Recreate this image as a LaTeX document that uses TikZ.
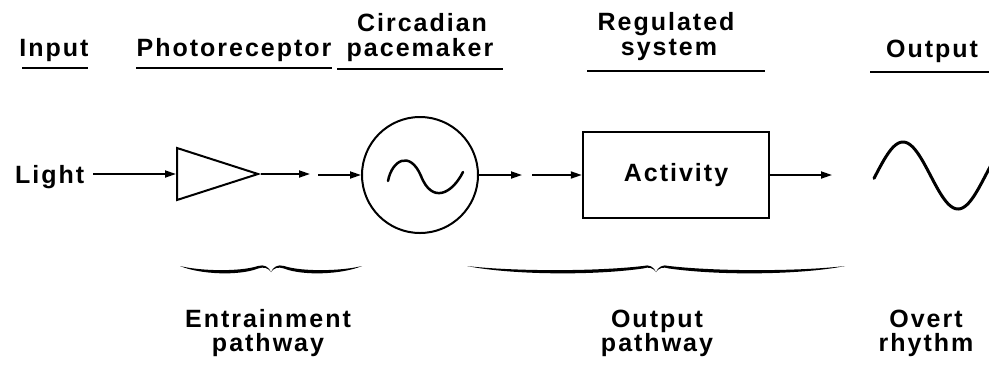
\documentclass[tikz,border=0pt]{standalone}
\usepackage{fontspec}
\setmainfont{Liberation Sans}[LetterSpace=8]
\usetikzlibrary{arrows.meta,shapes.geometric,calc}
\tikzset{
  lbl/.style={inner sep=0pt, anchor=base},
  uline/.style={line width=2pt},
  arr/.style={line width=1.8pt, -{Triangle[length=11pt,width=7pt]}},
  pics/brc/.style={code={
    \foreach \s in {1,-1}{
      \begin{scope}[xscale=\s]
        \fill (-#1,-5) .. controls ({-0.78*#1},0) and ({-0.35*#1},1) .. (-13,-5)
          .. controls (-7,-7) and (-2,-4) .. (0,1)
          .. controls (-3,-3) and (-7,-4.5) .. (-13,-2.5)
          .. controls ({-0.35*#1},5) and ({-0.78*#1},3.5) .. (-#1,-5) -- cycle;
      \end{scope}}
  }}
}
\begin{document}
\begin{tikzpicture}[x=1pt,y=-1pt,font=\fontsize{25}{25}\selectfont\bfseries]
\useasboundingbox (0,0) rectangle (989,368);
% headers
\node[lbl] (inp) at (54,56) {Input};
\node[lbl] (photo) at (234,56) {Photoreceptor};
\node[lbl] (circ) at (422,31) {Circadian};
\node[lbl] (pace) at (420,56) {pacemaker};
\node[lbl] (reg) at (666,30) {Regulated};
\node[lbl] (sys) at (669,55) {system};
\node[lbl] (outh) at (932,57) {Output};
\draw[uline] (22,68) -- (88,68);
\draw[uline] (136,68) -- (332,68);
\draw[uline] (337,69) -- (503,69);
\draw[uline] (587,71) -- (765,71);
\draw[uline] (870,72) -- (989,72);
% main row
\node[lbl, anchor=base west] (light) at (15,183) {Light};
\node[draw, line width=2pt, isosceles triangle, isosceles triangle stretches,
      minimum height=81pt, minimum width=52pt, inner sep=0pt, anchor=west] (tri) at (176,174) {};
\node[draw, circle, line width=2pt, minimum size=116pt, inner sep=0pt] (pm) at (420,175) {};
\node[draw, line width=2.4pt, minimum width=186pt, minimum height=86pt, inner sep=0pt] (act) at (676,175) {Activity};
\coordinate (a0) at (93,174);
\coordinate (a1) at (310,174);
\coordinate (a2) at (318,175);
\coordinate (a3) at (522,175);
\coordinate (a4) at (532,175);
\coordinate (a5) at (832,175);
\draw[arr] (a0) -- (tri.west);
\draw[arr] (tri.apex) -- (a1);
\draw[arr] (a2) -- (pm.west);
\draw[arr] (pm.east) -- (a3);
\draw[arr] (a4) -- (act.west);
\draw[arr] (act.east) -- (a5);
\begin{scope}[shift={(pm.center)}]
  \draw[line width=2.5pt, line cap=round] (-32,6) .. controls (-28,-15) and (-10,-25) .. (1,1)
     .. controls (12,29) and (32,19) .. (43,-3);
\end{scope}
\begin{scope}
  \clip (0,0) rectangle (989,368);
  \draw[line width=3pt, line cap=round, domain=874:995, samples=80, smooth]
     plot (\x, {175.5-33.5*cos(3.2727*(\x-903))});
\end{scope}
% braces
\pic at (271,271) {brc=91};
\pic at (656,271) {brc=189};
% bottom labels
\node[lbl] (ent) at (268,327) {Entrainment};
\node[lbl] (entp) at (268,351) {pathway};
\node[lbl] (outp) at (657,327) {Output};
\node[lbl] (outpp) at (657,351) {pathway};
\node[lbl] (ov) at (926,327) {Overt};
\node[lbl] (ovr) at (926,351) {rhythm};
\end{tikzpicture}
\end{document}
